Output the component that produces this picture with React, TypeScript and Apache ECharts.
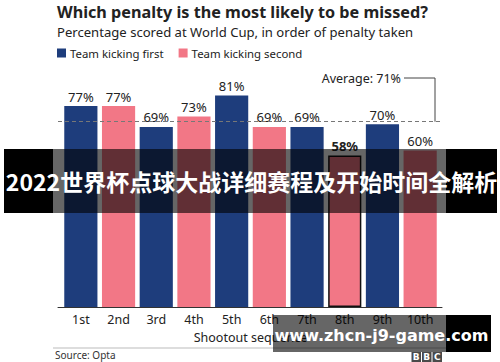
import React, { useEffect, useRef } from "react";
import * as echarts from "echarts";

const shootoutOrder = ["1st", "2nd", "3rd", "4th", "5th", "6th", "7th", "8th", "9th", "10th"];
const teamFirstScored = [77, null, 69, null, 81, null, 69, null, 70, null];
const teamSecondScored = [null, 77, null, 73, null, 69, null, 58, null, 60];
const averageScored = 71;
const highlightedIndex = 7;

const NAVY = "#1e3d7c";
const PINK = "#f27786";
const INK = "#222222";
const FONT = "'Noto Sans', 'Open Sans', sans-serif";

function buildData(values: (number | null)[]) {
  return values.map((v, i) =>
    v === null
      ? "-"
      : i === highlightedIndex
      ? {
          value: v,
          itemStyle: { borderColor: "#111", borderWidth: 1.5 },
          label: { fontWeight: "bold" },
        }
      : v
  );
}

export default function App() {
  const ref = useRef<HTMLDivElement>(null);
  useEffect(() => {
    if (!ref.current) return;
    const chart = echarts.init(ref.current, null, { renderer: "svg" });
    const barLabel = {
      show: true,
      position: "top",
      distance: 3,
      formatter: "{c}%",
      color: INK,
      fontSize: 13,
      fontFamily: FONT,
    };
    chart.setOption({
      animation: false,
      backgroundColor: "#ffffff",
      textStyle: { fontFamily: FONT },
      title: {
        left: 52,
        top: -1,
        text: "Which penalty is the most likely to be missed?",
        subtext: "Percentage scored at World Cup, in order of penalty taken",
        itemGap: 5,
        textStyle: { fontSize: 16.2, fontWeight: "bold", color: INK, fontFamily: FONT },
        subtextStyle: { fontSize: 13.1, color: INK, fontFamily: FONT },
      },
      legend: {
        left: 57,
        top: 47.5,
        padding: 0,
        itemWidth: 9,
        itemHeight: 9,
        itemGap: 15,
        icon: "rect",
        textStyle: { fontSize: 11.4, color: INK, fontFamily: FONT, padding: [0, 0, 0, -1] },
        data: ["Team kicking first", "Team kicking second"],
      },
      grid: [
        { left: 62, right: 61, top: 46, bottom: 55 },
        { left: 58, right: 58, top: 46, bottom: 55 },
      ],
      xAxis: [
        {
          type: "category",
          gridIndex: 0,
          data: shootoutOrder,
          axisLine: { show: false },
          axisTick: { show: false },
          axisLabel: { color: INK, fontSize: 12.5, margin: 6, fontFamily: FONT },
          name: "Shootout sequence",
          nameLocation: "middle",
          nameGap: 21,
          nameTextStyle: { color: INK, fontSize: 12.5, fontFamily: FONT },
        },
        {
          type: "value",
          gridIndex: 1,
          min: 0,
          max: 1,
          axisLine: { show: true, lineStyle: { color: "#333", width: 1 } },
          axisTick: { show: false },
          axisLabel: { show: false },
          splitLine: { show: false },
        },
      ],
      yAxis: [
        { type: "value", gridIndex: 0, min: 0, max: 100, show: false },
        { type: "value", gridIndex: 1, min: 0, max: 100, show: false },
      ],
      series: [
        {
          name: "Team kicking first",
          type: "bar",
          xAxisIndex: 0,
          yAxisIndex: 0,
          data: buildData(teamFirstScored),
          itemStyle: { color: NAVY },
          barGap: "-100%",
          barCategoryGap: "12%",
          label: barLabel,
        },
        {
          name: "Team kicking second",
          type: "bar",
          xAxisIndex: 0,
          yAxisIndex: 0,
          data: buildData(teamSecondScored),
          itemStyle: { color: PINK },
          barGap: "-100%",
          barCategoryGap: "12%",
          label: barLabel,
        },
        {
          name: "average",
          type: "line",
          xAxisIndex: 1,
          yAxisIndex: 1,
          data: [],
          markLine: {
            silent: true,
            symbol: "none",
            label: { show: false },
            lineStyle: { color: "#777", type: [4, 3], width: 1 },
            data: [{ yAxis: averageScored }],
          },
        },
      ],
    });

    const yAvg = chart.convertToPixel({ yAxisIndex: 1 }, averageScored) as number;

    chart.setOption({
      graphic: [
        {
          type: "text",
          x: 401,
          y: 78,
          style: {
            text: `Average: ${averageScored}%`,
            fontSize: 12.5,
            fill: INK,
            fontFamily: FONT,
            align: "right",
            verticalAlign: "middle",
          },
        },
        {
          type: "polyline",
          shape: { points: [[404, 78], [435, 78], [435, yAvg]] },
          style: { stroke: "#444", lineWidth: 1, fill: null },
        },
        {
          type: "line",
          shape: { x1: 53, y1: 348, x2: 447, y2: 348 },
          style: { stroke: "#bbbbbb", lineWidth: 1 },
        },
        {
          type: "text",
          left: 55,
          top: 350,
          style: { text: "Source: Opta", fontSize: 10, fill: "#333", fontFamily: FONT },
        },
        ...["B", "B", "C"].flatMap((ch, i) => [
          {
            type: "rect",
            shape: { x: 411.5 + i * 10.5, y: 352, width: 9.5, height: 10 },
            style: { fill: "#4a4a4a" },
          },
          {
            type: "text",
            x: 416.25 + i * 10.5,
            y: 357,
            style: {
              text: ch,
              fontSize: 9,
              fontWeight: "bold",
              fill: "#fff",
              align: "center",
              verticalAlign: "middle",
              fontFamily: "'DejaVu Sans', sans-serif",
            },
          },
        ]),
        // overlay banner
        {
          type: "rect",
          z: 100,
          shape: { x: 4, y: 149, width: 49, height: 64 },
          style: { fill: "#000" },
        },
        {
          type: "rect",
          z: 100,
          shape: { x: 53, y: 149, width: 393, height: 64 },
          style: { fill: "rgba(0,0,0,0.6)" },
        },
        {
          type: "rect",
          z: 100,
          shape: { x: 446, y: 149, width: 51, height: 64 },
          style: { fill: "#000" },
        },
        {
          type: "text",
          z: 101,
          x: 251.5,
          y: 181,
          style: {
            text: "2022世界杯点球大战详细赛程及开始时间全解析",
            fontSize: 23,
            fontWeight: "bold",
            fill: "#fff",
            align: "center",
            verticalAlign: "middle",
            fontFamily: "'Noto Sans CJK SC', sans-serif",
          },
        },
        // watermark
        {
          type: "rect",
          z: 100,
          shape: { x: 273, y: 315, width: 173, height: 37 },
          style: { fill: "rgba(0,0,0,0.6)" },
        },
        {
          type: "rect",
          z: 100,
          shape: { x: 446, y: 315, width: 45, height: 37 },
          style: { fill: "#000" },
        },
        {
          type: "text",
          z: 101,
          x: 381.5,
          y: 335,
          style: {
            text: "www.zhcn-j9-game.com",
            fontSize: 16,
            fontWeight: "bold",
            fill: "#fff",
            align: "center",
            verticalAlign: "middle",
            fontFamily: "'DejaVu Sans', sans-serif",
          },
        },
      ],
    });

    return () => chart.dispose();
  }, []);
  return (
    <div
      ref={ref}
      style={{ position: "fixed", left: 0, top: 0, width: 500, height: 362, background: "#fff" }}
    />
  );
}
